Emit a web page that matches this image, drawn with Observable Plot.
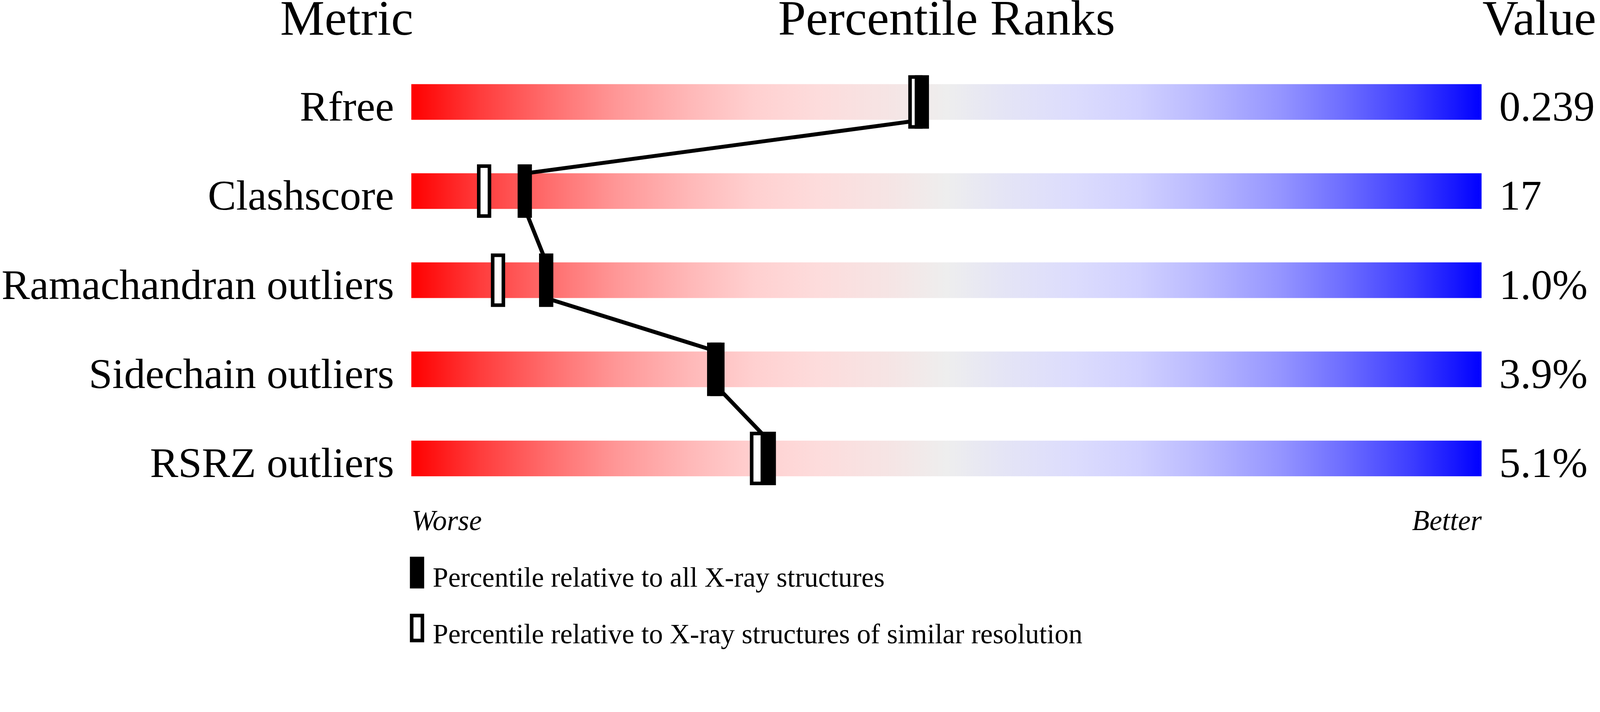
<!DOCTYPE html>
<html><head><meta charset="utf-8">
<script src="https://cdn.jsdelivr.net/npm/d3@7"></script>
<script src="https://cdn.jsdelivr.net/npm/@observablehq/plot@0.6"></script>
<style>
html,body{margin:0;padding:0;background:#fff;overflow:hidden;}
#chart svg{display:block;max-width:100%;height:auto;}
</style>
</head><body><div id="chart"></div>
<script>
// ---- data ----
const metrics = ["Rfree", "Clashscore", "Ramachandran outliers", "Sidechain outliers", "RSRZ outliers"];
const values = ["0.239", "17", "1.0%", "3.9%", "5.1%"];
const pctAll = [47.7, 10.6, 12.6, 28.6, 33.4];       // percentile vs all X-ray structures
const pctSimilar = [47.1, 6.8, 8.1, 28.3, 32.3];     // percentile vs similar resolution
const headers = ["Metric", "Percentile Ranks", "Value"];
const scaleEnds = ["Worse", "Better"];
const legendLabels = ["Percentile relative to all X-ray structures",
                      "Percentile relative to X-ray structures of similar resolution"];

// ---- styles ----
const serif = "'Liberation Serif','Times New Roman',serif";
const gradientStops = [
  [0, "rgb(255,0,0)"], [0.064, "rgb(255,60,60)"], [0.13, "rgb(255,110,110)"],
  [0.19, "rgb(255,150,150)"], [0.26, "rgb(255,184,184)"], [0.32, "rgb(255,208,208)"],
  [0.38, "rgb(253,220,220)"], [0.45, "rgb(245,229,229)"], [0.5, "rgb(238,238,238)"],
  [0.55, "rgb(229,229,245)"], [0.62, "rgb(220,220,253)"], [0.68, "rgb(208,208,255)"],
  [0.74, "rgb(184,184,255)"], [0.81, "rgb(150,150,255)"], [0.87, "rgb(110,110,255)"],
  [0.936, "rgb(60,60,255)"], [1, "rgb(0,0,255)"]
];
const HALF = 0.2;      // half bar height (row units)
const MK = 0.3;        // half marker height (row units)

const rows = metrics.map((m, i) => ({metric: m, value: values[i], all: pctAll[i], similar: pctSimilar[i], row: i}));
const links = rows.slice(0, -1).map((d, i) => ({xa: d.all, ya: d.row, xb: rows[i + 1].all, yb: rows[i + 1].row}));

const W = 4485, H = 1530;
const plot = Plot.plot({
  width: W, height: H,
  marginLeft: 1153, marginRight: 332, marginTop: 286, marginBottom: 244,
  x: {domain: [0, 100], axis: null},
  y: {domain: [0, 4], reverse: true, axis: null},
  style: {background: "#fff", fontFamily: serif, color: "#000"},
  marks: [
    Plot.rect(rows, {x1: () => 0, x2: () => 100, y1: d => d.row - HALF, y2: d => d.row + HALF, fill: "url(#slider)"}),
    Plot.link(links, {x1: "xa", y1: d => d.ya + HALF, x2: "xb", y2: d => d.yb - HALF, stroke: "#000", strokeWidth: 11}),
    Plot.rect(rows, {x1: d => d.similar - 0.5, x2: d => d.similar + 0.5, y1: d => d.row - 0.28, y2: d => d.row + 0.28,
                     fill: "#fff", stroke: "#000", strokeWidth: 10}),
    Plot.rect(rows, {x1: d => d.all - 2/3, x2: d => d.all + 2/3, y1: d => d.row - MK, y2: d => d.row + MK, fill: "#000"}),
    Plot.text(rows, {x: () => 0, y: d => d.row + HALF, text: "metric", textAnchor: "end", dx: -49, dy: 2,
                     lineAnchor: "bottom", fontSize: 119, fill: "#000"}),
    Plot.text(rows, {x: () => 100, y: d => d.row + HALF, text: "value", textAnchor: "start", dx: 49, dy: 2,
                     lineAnchor: "bottom", fontSize: 119, fill: "#000"}),
    Plot.text([headers[0]], {x: () => 0, frameAnchor: "top", text: d => d, textAnchor: "end", dx: 5, dy: -189,
                     lineAnchor: "bottom", fontSize: 140, fill: "#000"}),
    Plot.text([headers[1]], {x: () => 50, frameAnchor: "top", text: d => d, textAnchor: "middle", dy: -189,
                     lineAnchor: "bottom", fontSize: 140, fill: "#000"}),
    Plot.text([headers[2]], {x: () => 100, frameAnchor: "top", text: d => d, textAnchor: "start", dx: 2, dy: -189,
                     lineAnchor: "bottom", fontSize: 140, fill: "#000"}),
    Plot.text([scaleEnds[0]], {x: () => 0, frameAnchor: "bottom", text: d => d, textAnchor: "start", dy: 201,
                     lineAnchor: "bottom", fontSize: 80, fontStyle: "italic", fill: "#000"}),
    Plot.text([scaleEnds[1]], {x: () => 100, frameAnchor: "bottom", text: d => d, textAnchor: "end", dy: 201,
                     lineAnchor: "bottom", fontSize: 80, fontStyle: "italic", fill: "#000"})
  ]
});

// gradient definition
const defs = d3.select(plot).insert("defs", ":first-child");
const grad = defs.append("linearGradient").attr("id", "slider").attr("x1", "0").attr("x2", "1").attr("y1", "0").attr("y2", "0");
gradientStops.forEach(([o, c]) => grad.append("stop").attr("offset", o).attr("stop-color", c));

const chart = document.getElementById("chart");
chart.appendChild(plot);

// legend below the chart (same scaling behaviour as the plot svg)
const LH = 1824 - H;
const lg = d3.select(chart).append("svg")
  .attr("width", W).attr("height", LH).attr("viewBox", `0 0 ${W} ${LH}`)
  .style("font-family", serif);
const items = [
  {label: legendLabels[0], top: 32, h: 89, baseline: 116, filled: true},
  {label: legendLabels[1], top: 192, h: 80, baseline: 275, filled: false}
];
items.forEach(it => {
  if (it.filled) {
    lg.append("rect").attr("x", 1149).attr("y", it.top).attr("width", 40).attr("height", it.h).attr("fill", "#000");
  } else {
    lg.append("rect").attr("x", 1154).attr("y", it.top + 5).attr("width", 30).attr("height", it.h - 10)
      .attr("fill", "#fff").attr("stroke", "#000").attr("stroke-width", 10);
  }
  lg.append("text").attr("x", 1213).attr("y", it.baseline).attr("font-size", 78).attr("fill", "#000").text(it.label);
});
</script>
</body></html>
